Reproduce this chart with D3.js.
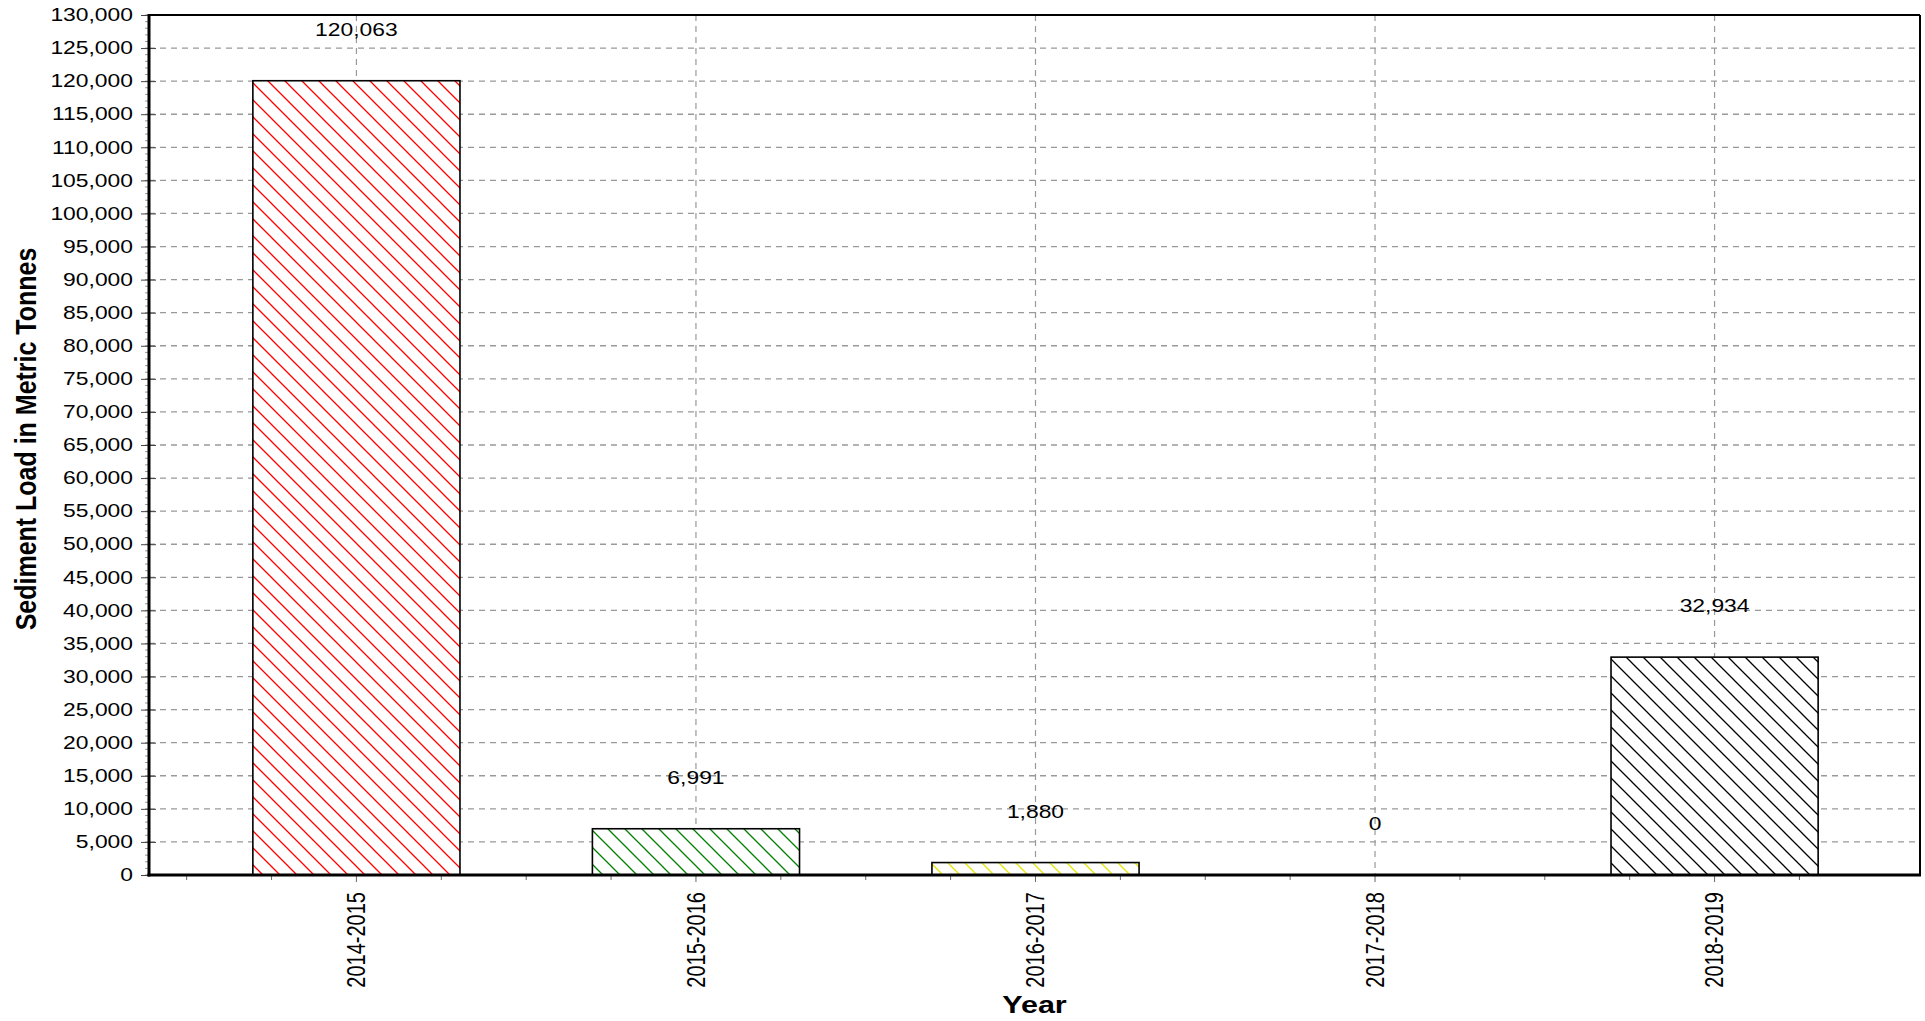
<!DOCTYPE html>
<html>
<head>
<meta charset="utf-8">
<script src="https://cdn.jsdelivr.net/npm/d3@7"></script>
<style>
  html, body { margin: 0; padding: 0; background: #fff; }
  svg { display: block; font-family: "Liberation Sans", Arial, sans-serif; }
</style>
</head>
<body>
<div id="chart"></div>
<script>
// sediment load per year
const categories = ['2014-2015', '2015-2016', '2016-2017', '2017-2018', '2018-2019'];
const values = [120063, 6991, 1880, 0, 32934];
const barColors = ['#ff0000', '#008000', '#e6e600', '#0000ff', '#000000'];
const yTicks = d3.range(0, 130001, 5000);
const yTitle = 'Sediment Load in Metric Tonnes';
const xTitle = 'Year';

const width = 1925, height = 1021;
const margin = { top: 15, right: 5, bottom: 146, left: 149 };
const SX = 1.27; // the picture is stretched sideways, text too

const svg = d3.select('#chart').append('svg')
    .attr('width', width)
    .attr('height', height);

const x = d3.scaleBand()
    .domain(categories)
    .range([margin.left + 2, width - margin.right])
    .paddingInner(0.39)
    .paddingOuter(0.3);

const y = d3.scaleLinear()
    .domain([0, 130000])
    .range([height - margin.bottom, margin.top]);

const x0 = margin.left, x1 = width - margin.right;
const y0 = y(0), yTop = y(130000);
const center = d => x(d) + x.bandwidth() / 2;

// hatch patterns
const defs = svg.append('defs');
categories.forEach((c, i) => {
    const p = defs.append('pattern')
        .attr('id', 'hatch' + i)
        .attr('patternUnits', 'userSpaceOnUse')
        .attr('width', 17)
        .attr('height', 17);
    p.append('path')
        .attr('d', 'M0,0L17,17M-2,15L2,19M15,-2L19,2')
        .attr('stroke', barColors[i])
        .attr('stroke-width', 1.3)
        .attr('fill', 'none');
});

// grid
svg.append('g')
    .selectAll('line')
    .data(yTicks)
    .join('line')
    .attr('x1', x0).attr('x2', x1)
    .attr('y1', d => y(d)).attr('y2', d => y(d))
    .attr('stroke', '#999')
    .attr('stroke-width', 1.3)
    .attr('stroke-dasharray', '6,5');

svg.append('g')
    .selectAll('line')
    .data(categories)
    .join('line')
    .attr('x1', center).attr('x2', center)
    .attr('y1', yTop).attr('y2', y0)
    .attr('stroke', '#999')
    .attr('stroke-width', 1.2)
    .attr('stroke-dasharray', '6,5');

// bars
const bars = svg.append('g')
    .selectAll('g')
    .data(categories)
    .join('g');

bars.append('rect')
    .attr('x', d => x(d))
    .attr('y', (d, i) => y(values[i]))
    .attr('width', x.bandwidth())
    .attr('height', (d, i) => y0 - y(values[i]))
    .attr('fill', '#fff');

bars.append('rect')
    .attr('x', d => x(d))
    .attr('y', (d, i) => y(values[i]))
    .attr('width', x.bandwidth())
    .attr('height', (d, i) => y0 - y(values[i]))
    .attr('fill', (d, i) => `url(#hatch${i})`)
    .attr('stroke', '#000')
    .attr('stroke-width', 1.6);

// value labels
bars.append('text')
    .attr('transform', (d, i) => `translate(${center(d)},${y(values[i]) - 45}) scale(${SX},1)`)
    .attr('text-anchor', 'middle')
    .attr('font-size', 18)
    .attr('fill', '#000')
    .text((d, i) => d3.format(',')(values[i]));

// minor ticks on y
svg.append('g')
    .selectAll('line')
    .data(d3.range(0, 130001, 1000))
    .join('line')
    .attr('x1', x0 - 4).attr('x2', x0)
    .attr('y1', d => y(d)).attr('y2', d => y(d))
    .attr('stroke', '#999');

// y axis
const yAxis = svg.append('g')
    .attr('transform', `translate(${x0},0)`)
    .call(d3.axisLeft(y).tickValues(yTicks).tickFormat(d3.format(',')).tickSize(8).tickSizeOuter(0));
yAxis.select('.domain').remove();
yAxis.selectAll('.tick line').attr('x2', 7).attr('x1', -8).attr('stroke', '#444');
yAxis.selectAll('.tick text')
    .attr('font-family', '"Liberation Sans", Arial, sans-serif')
    .attr('font-size', 18)
    .attr('fill', '#000')
    .attr('x', -16 / SX)
    .attr('transform', `scale(${SX},1)`);

// minor ticks on x
const step = x.step();
const minor = [];
categories.forEach(c => {
    [-0.5, -0.25, 0.25].forEach(k => minor.push(center(c) + k * step));
});
minor.push(center(categories[categories.length - 1]) + 0.25 * step);
svg.append('g')
    .selectAll('line')
    .data(minor.filter(v => v > x0 + 2 && v < x1 - 2))
    .join('line')
    .attr('x1', d => d).attr('x2', d => d)
    .attr('y1', y0).attr('y2', y0 + 5)
    .attr('stroke', '#666');

// x axis
const xAxis = svg.append('g')
    .attr('transform', `translate(0,${y0})`)
    .call(d3.axisBottom(x).tickSize(7).tickSizeOuter(0));
xAxis.select('.domain').remove();
xAxis.selectAll('.tick line').attr('stroke', '#666');
xAxis.selectAll('.tick text')
    .attr('font-family', '"Liberation Sans", Arial, sans-serif')
    .attr('font-size', 20)
    .attr('fill', '#000')
    .attr('x', 0).attr('y', 0)
    .attr('dy', '0.35em')
    .attr('text-anchor', 'end')
    .attr('transform', `translate(0,17) scale(${SX},1) rotate(-90)`);

// frame
svg.append('line')
    .attr('x1', x0).attr('x2', x1).attr('y1', yTop).attr('y2', yTop)
    .attr('stroke', '#000').attr('stroke-width', 2);
svg.append('line')
    .attr('x1', x1).attr('x2', x1).attr('y1', yTop).attr('y2', y0)
    .attr('stroke', '#000').attr('stroke-width', 2);
svg.append('line')
    .attr('x1', x0).attr('x2', x0).attr('y1', yTop - 1).attr('y2', y0 + 1.5)
    .attr('stroke', '#000').attr('stroke-width', 3);
svg.append('line')
    .attr('x1', x0 - 1.5).attr('x2', x1 + 1).attr('y1', y0).attr('y2', y0)
    .attr('stroke', '#000').attr('stroke-width', 3);

// titles
svg.append('text')
    .attr('transform', `translate(26,439) scale(${SX * 0.92},1) rotate(-90)`)
    .attr('text-anchor', 'middle')
    .attr('dy', '0.35em')
    .attr('font-size', 25)
    .attr('font-weight', 'bold')
    .text(yTitle);

svg.append('text')
    .attr('transform', `translate(${(x0 + x1) / 2},1013) scale(${SX},1)`)
    .attr('text-anchor', 'middle')
    .attr('font-size', 24)
    .attr('font-weight', 'bold')
    .text(xTitle);
</script>
</body>
</html>
